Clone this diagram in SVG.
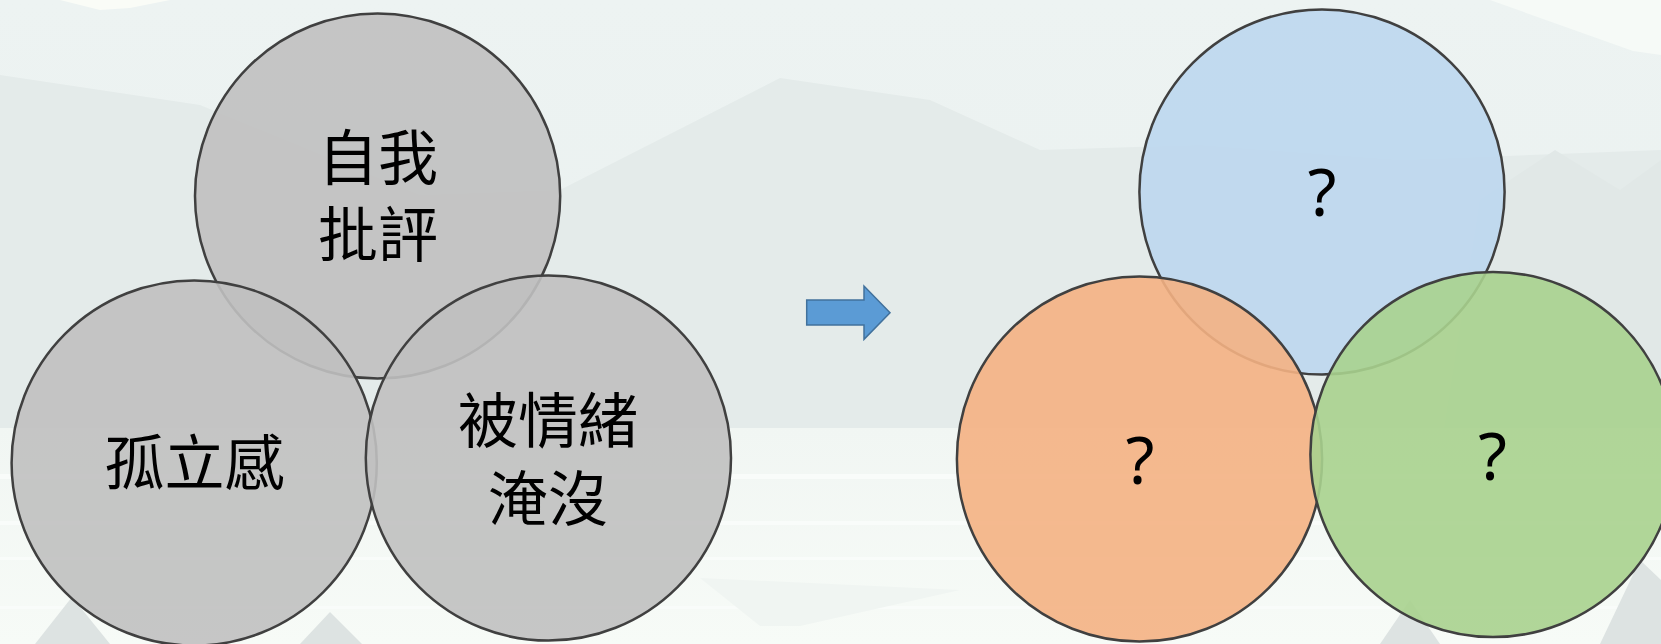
<svg xmlns="http://www.w3.org/2000/svg" width="1661" height="644" viewBox="0 0 1661 644">
  <defs>
    <linearGradient id="sky" x1="0" y1="0" x2="0" y2="1">
      <stop offset="0" stop-color="#EDF3F2"/>
      <stop offset="1" stop-color="#E8EFEE"/>
    </linearGradient>
    <linearGradient id="water" x1="0" y1="0" x2="0" y2="1">
      <stop offset="0" stop-color="#F1F6F3"/>
      <stop offset="1" stop-color="#F7FBF7"/>
    </linearGradient>
    <style>
      .c { stroke: #404040; stroke-width: 2.5; fill-opacity: 0.9; }
      .gray { fill: #C0C0C0; }
      .blue { fill: #BDD7EE; }
      .orange { fill: #F4B183; }
      .green { fill: #A9D18E; }
      .cjk { font-family: "Noto Sans CJK TC", "Noto Sans CJK SC", sans-serif; font-size: 60px; font-weight: 400; fill: #000; text-anchor: middle; }
      .q { font-family: "Noto Sans", "DejaVu Sans", sans-serif; font-size: 66px; font-weight: 400; fill: #000; text-anchor: middle; }
      .stripe { fill: #F9FCFA; }
    </style>
  </defs>

  <!-- background scene -->
  <rect x="0" y="0" width="1661" height="644" fill="url(#sky)"/>
  <polygon points="60,0 170,0 130,8 100,10" fill="#FAFCF7"/>
  <polygon points="1490,0 1661,0 1661,55 1633,51" fill="#F6FAF7"/>
  <polygon points="0,75 200,105 420,195 560,190 780,78 930,100 1040,150 1200,145 1400,160 1661,150 1661,455 0,455" fill="#E4EBEA"/>
  <polygon points="1480,200 1555,150 1620,190 1661,160 1661,455 1440,455" fill="#E1E8E7"/>
  <rect x="0" y="428" width="1661" height="216" fill="url(#water)"/>
  <rect class="stripe" x="0" y="474" width="1661" height="5"/>
  <rect class="stripe" x="0" y="521" width="1661" height="4"/>
  <rect class="stripe" x="0" y="557" width="1661" height="3"/>
  <rect class="stripe" x="0" y="606" width="1661" height="3"/>
  <polygon points="700,578 960,590 800,626 760,626" fill="#F0F5F2"/>
  <polygon points="35,644 72,597 110,644" fill="#DDE3E2"/>
  <polygon points="300,644 330,612 362,644" fill="#DDE3E2"/>
  <polygon points="1380,644 1410,600 1440,644" fill="#DDE3E2"/>
  <polygon points="1600,644 1640,560 1661,580 1661,644" fill="#DDE3E2"/>

  <!-- connectors -->
  <g id="connectors">
    <polygon points="806.7,300 864,300 864,286 890,312.7 864,339.3 864,325 806.7,325" fill="#5B9BD5" stroke="#41719C" stroke-width="1.5"/>
  </g>

  <!-- left venn -->
  <g id="self-criticism">
    <circle class="c gray" cx="377.6" cy="196" r="182.6"/>
    <text class="cjk"><tspan x="378" y="180">自我</tspan><tspan x="378" y="257">批評</tspan></text>
  </g>
  <g id="isolation">
    <circle class="c gray" cx="194.2" cy="463" r="182.6"/>
    <text class="cjk" x="194.5" y="485">孤立感</text>
  </g>
  <g id="overwhelmed">
    <circle class="c gray" cx="548.4" cy="458" r="182.6"/>
    <text class="cjk"><tspan x="548" y="443">被情緒</tspan><tspan x="548" y="521">淹沒</tspan></text>
  </g>

  <!-- right venn -->
  <g id="q-top">
    <circle class="c blue" cx="1322" cy="192" r="182.6"/>
    <text class="q" x="1322" y="215.6">?</text>
  </g>
  <g id="q-left">
    <circle class="c orange" cx="1139.5" cy="459" r="182.6"/>
    <text class="q" x="1140" y="483.8">?</text>
  </g>
  <g id="q-right">
    <circle class="c green" cx="1493" cy="454.5" r="182.6"/>
    <text class="q" x="1492.5" y="480">?</text>
  </g>
</svg>
